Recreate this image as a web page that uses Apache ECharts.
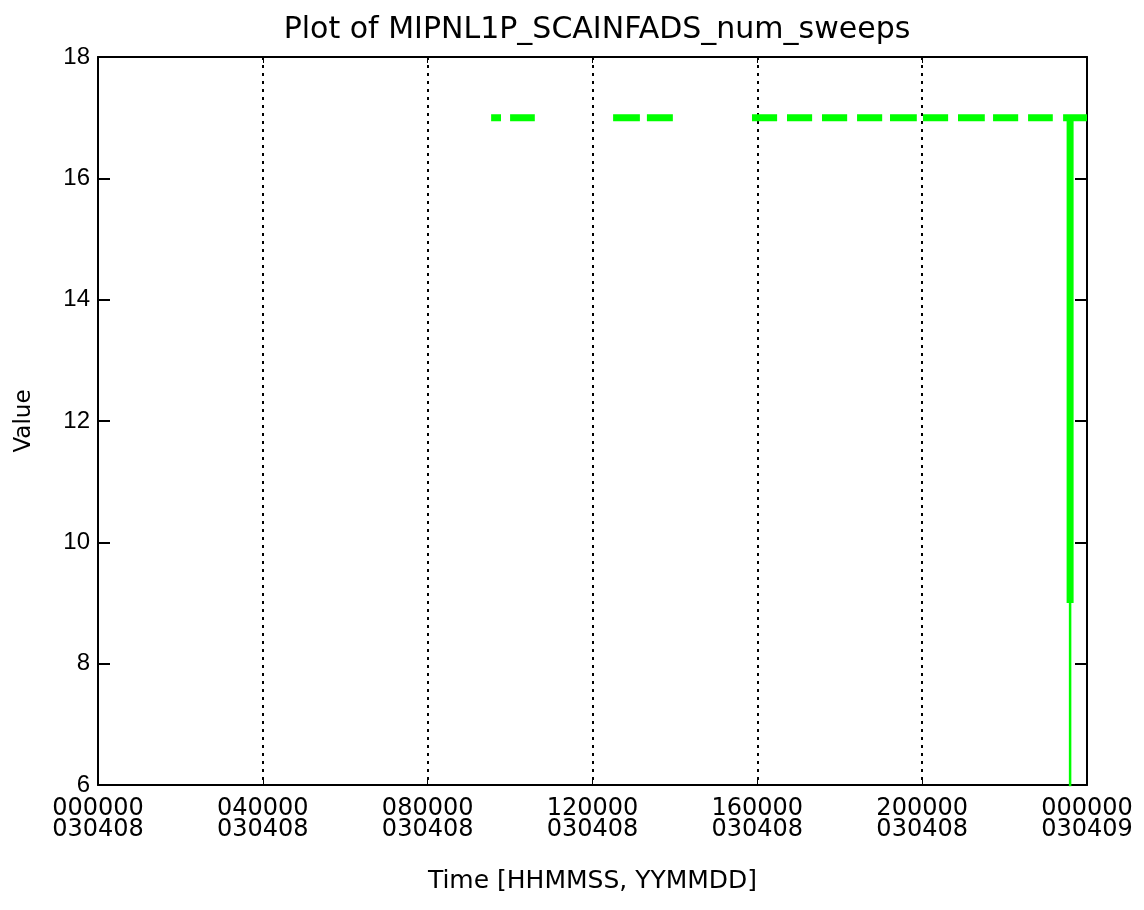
<!DOCTYPE html>
<html>
<head>
<meta charset="utf-8">
<script src="https://cdn.jsdelivr.net/npm/echarts@6/dist/echarts.min.js"></script>
<style>
html,body{margin:0;padding:0;background:#fff;}
#chart{width:1144px;height:910px;}
</style>
</head>
<body>
<div id="chart"></div>
<script>
// Data (hours since 000000 030408) — segments where num_sweeps = 17
const segStart = [9.54, 10.00, 12.50, 13.32, 15.87, 16.72, 17.57, 18.42, 19.22, 20.02, 20.87, 21.72, 22.57, 23.42];
const segEnd   = [9.78, 10.60, 13.15, 13.95, 16.48, 17.33, 18.18, 19.03, 19.87, 20.63, 21.52, 22.33, 23.17, 24.00];
const segValue = 17;
const dropTime = 23.59;
const dropLow = 9;
const thinLow = 0;
const xTickTimes = ['000000', '040000', '080000', '120000', '160000', '200000', '000000'];
const xTickDates = ['030408', '030408', '030408', '030408', '030408', '030408', '030409'];

// Build main series data with gaps
const mainData = [];
for (let i = 0; i < segStart.length; i++) {
  mainData.push([segStart[i], segValue]);
  if (segStart[i] < dropTime && segEnd[i] > dropTime) {
    mainData.push([dropTime, segValue]);
    mainData.push([dropTime, dropLow]);
    mainData.push([dropTime, segValue]);
  }
  mainData.push([segEnd[i], segValue]);
  if (i < segStart.length - 1) mainData.push([ (segEnd[i] + segStart[i+1]) / 2, null ]);
}
const thinData = [[dropTime, segValue], [dropTime, thinLow]];

const FONT = 'DejaVu Sans';
const chart = echarts.init(document.getElementById('chart'), null, {renderer: 'canvas'});
const option = {
  backgroundColor: '#fff',
  animation: false,
  title: {
    text: 'Plot of MIPNL1P_SCAINFADS_num_sweeps',
    left: 592, textAlign: 'center', top: 10,
    textStyle: {fontFamily: FONT, fontSize: 30, fontWeight: 'normal', color: '#000'}
  },
  grid: {left: 98, right: 57, top: 57, bottom: 125, containLabel: false},
  xAxis: [{
    type: 'value', min: 0, max: 24, interval: 4, position: 'bottom',
    name: 'Time [HHMMSS, YYMMDD]', nameLocation: 'middle', nameGap: 84,
    nameTextStyle: {fontFamily: FONT, fontSize: 25, color: '#000'},
    axisLine: {show: true, onZero: false, lineStyle: {color: '#000', width: 2}},
    axisTick: {show: true, inside: true, length: 6, lineStyle: {color: '#000', width: 1}},
    axisLabel: {
      margin: 13, fontFamily: FONT, fontSize: 24, color: '#000', lineHeight: 21,
      formatter: function (v) { const i = Math.round(v / 4); return xTickTimes[i] + '\n' + xTickDates[i]; }
    },
    splitLine: {show: true, lineStyle: {color: '#000', width: 2, type: [3, 5]}}
  }, {
    type: 'value', min: 0, max: 24, interval: 4, position: 'top',
    axisLine: {show: true, onZero: false, lineStyle: {color: '#000', width: 2}},
    axisTick: {show: true, inside: true, length: 6, lineStyle: {color: '#000', width: 1}},
    axisLabel: {show: false}, splitLine: {show: false}
  }],
  yAxis: [{
    type: 'value', min: 6, max: 18, interval: 2, position: 'left',
    name: 'Value', nameLocation: 'middle', nameGap: 62, nameRotate: 90,
    nameTextStyle: {fontFamily: FONT, fontSize: 23, color: '#000'},
    axisLine: {show: true, onZero: false, lineStyle: {color: '#000', width: 2}},
    axisTick: {show: true, inside: true, length: 12, lineStyle: {color: '#000', width: 2}},
    axisLabel: {margin: 8, fontFamily: 'Liberation Sans', fontSize: 24, color: '#000'},
    splitLine: {show: false}
  }, {
    type: 'value', min: 6, max: 18, interval: 2, position: 'right',
    axisLine: {show: true, onZero: false, lineStyle: {color: '#000', width: 2}},
    axisTick: {show: true, inside: true, length: 12, lineStyle: {color: '#000', width: 2}},
    axisLabel: {show: false}, splitLine: {show: false}
  }],
  series: [{
    type: 'line', data: mainData, xAxisIndex: 0, yAxisIndex: 0,
    showSymbol: false, connectNulls: false, clip: true,
    lineStyle: {color: '#00ff00', width: 7},
    z: 5
  }, {
    type: 'line', data: thinData, xAxisIndex: 0, yAxisIndex: 0,
    showSymbol: false, clip: true,
    lineStyle: {color: '#00ff00', width: 2.5},
    z: 4
  }]
};
chart.setOption(option);
</script>
</body>
</html>
